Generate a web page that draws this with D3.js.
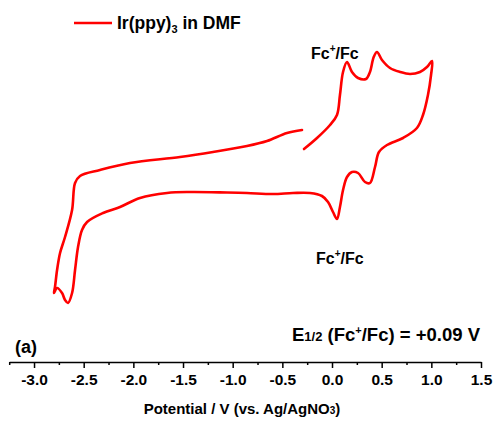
<!DOCTYPE html>
<html>
<head>
<meta charset="utf-8">
<script src="https://cdn.jsdelivr.net/npm/d3@7"></script>
<style>
  body { margin: 0; background: #fff; }
  text { font-family: Arial, "Liberation Sans", sans-serif; font-weight: bold; }
</style>
</head>
<body>
<div id="chart"></div>
<script>
// potential (V vs. Ag/AgNO3) in order
var potential = [
  -0.282, -0.151, -0.020, 0.050, 0.080, 0.111, 0.151, 0.201, 0.262, 0.342,
  0.382, 0.420, 0.453, 0.503, 0.584, 0.685, 0.785, 0.886, 0.956, 1.007,
  0.997, 0.966, 0.916, 0.855, 0.715, 0.554, 0.473, 0.433, 0.382, 0.332,
  0.262, 0.201, 0.151, 0.111, 0.080, 0.050, 0.010, -0.040, -0.101, -0.222,
  -0.393, -0.594, -0.856, -1.057, -1.430, -1.661, -1.933, -2.134, -2.305, -2.466,
  -2.517, -2.557, -2.587, -2.617, -2.658, -2.688, -2.718, -2.768, -2.799,
  -2.789, -2.768, -2.738, -2.688, -2.617, -2.587, -2.537, -2.336, -2.034, -1.530,
  -1.198, -0.856, -0.654, -0.453, -0.302
];
// current (arbitrary units, no axis in the original)
var current = [
  4.3, 5.4, 6.7, 7.7, 9.7, 12.0, 13.0, 12.0, 11.4, 11.3,
  12.0, 13.5, 14.0, 13.2, 12.4, 12.0, 11.8, 12.0, 12.5, 13.1,
  11.7, 9.7, 7.7, 6.4, 5.4, 4.7, 4.0, 2.5, 0.9, 1.0,
  1.9, 2.0, 1.5, 0.2, -1.5, -2.7, -2.0, -1.0, -0.4, -0.1,
  -0.1, -0.2, -0.1, -0.05, 0.0, -0.1, -0.6, -1.5, -2.1, -3.0,
  -3.8, -5.5, -7.8, -10.1, -11.1, -10.8, -10.1, -9.6, -10.1,
  -9.5, -7.8, -6.1, -4.5, -1.8, 0.9, 1.6, 2.2, 2.9, 3.5,
  4.0, 4.6, 5.1, 5.9, 6.2
];
var xTicks = [-3.0, -2.5, -2.0, -1.5, -1.0, -0.5, 0.0, 0.5, 1.0, 1.5];
var xMinorTicks = [-3.25, -2.75, -2.25, -1.75, -1.25, -0.75, -0.25, 0.25, 0.75, 1.25];

var width = 497, height = 421;
var red = "#ff0000";

var svg = d3.select("#chart")
  .append("svg")
    .attr("width", width)
    .attr("height", height);

// scales
var x = d3.scaleLinear()
  .domain([-3.25, 1.5])
  .range([9.2, 481]);

var y = d3.scaleLinear()
  .domain([-12, 14])
  .range([312, 52]);

var axisY = 362;

// X axis, minor ticks first then major ones
svg.append("g")
  .attr("transform", "translate(0," + axisY + ")")
  .call(d3.axisBottom(x).tickValues(xMinorTicks).tickSize(3).tickFormat(""))
  .call(g => g.select(".domain").remove())
  .selectAll("line").attr("stroke-width", 1.5);

var xAxis = svg.append("g")
  .attr("transform", "translate(0," + axisY + ")")
  .call(d3.axisBottom(x).tickValues(xTicks).tickSize(6).tickSizeOuter(0).tickPadding(6)
    .tickFormat(d3.format(".1f")));
xAxis.select(".domain").attr("stroke-width", 1.6);
xAxis.selectAll("line").attr("stroke-width", 1.5);
xAxis.selectAll("text")
  .attr("font-size", 15.5)
  .attr("fill", "#000")
  .text(d => d3.format(".1f")(d).replace("−", "-"));

// axis title
var title = svg.append("text")
  .attr("x", 242)
  .attr("y", 414)
  .attr("text-anchor", "middle")
  .attr("font-size", 15)
  .attr("fill", "#000");
title.append("tspan").text("Potential / V (vs. Ag/AgNO");
title.append("tspan").attr("font-size", 10).text("3");
title.append("tspan").text(")");

// the CV trace
var pts = potential.map((v, i) => [v, current[i]]);
var line = d3.line()
  .x(d => x(d[0]))
  .y(d => y(d[1]))
  .curve(d3.curveCatmullRom.alpha(0.5));

svg.append("path")
  .datum(pts)
  .attr("fill", "none")
  .attr("stroke", red)
  .attr("stroke-width", 2.6)
  .attr("stroke-linejoin", "round")
  .attr("stroke-linecap", "round")
  .attr("d", line);

// legend
svg.append("line")
  .attr("x1", 74).attr("x2", 112)
  .attr("y1", 23).attr("y2", 23)
  .attr("stroke", red)
  .attr("stroke-width", 2.6);
var leg = svg.append("text")
  .attr("x", 117)
  .attr("y", 29)
  .attr("font-size", 17.5)
  .attr("fill", "#000");
leg.append("tspan").text("Ir(ppy)");
leg.append("tspan").attr("font-size", 11).attr("dy", 4).text("3");
leg.append("tspan").attr("dy", -4).text(" in DMF");

// Fc+/Fc labels
function fcLabel(xp, yp) {
  var t = svg.append("text")
    .attr("x", xp)
    .attr("y", yp)
    .attr("font-size", 16)
    .attr("fill", "#000");
  t.append("tspan").text("Fc");
  t.append("tspan").attr("font-size", 10).attr("dy", -7).text("+");
  t.append("tspan").attr("dy", 7).text("/Fc");
  return t;
}
fcLabel(311, 59);
fcLabel(316, 264);

// panel letter
svg.append("text")
  .attr("x", 15)
  .attr("y", 353)
  .attr("font-size", 18)
  .attr("fill", "#000")
  .text("(a)");

// E1/2 note
var e12 = svg.append("text")
  .attr("x", 480)
  .attr("y", 341)
  .attr("text-anchor", "end")
  .attr("font-size", 18.5)
  .attr("fill", "#000");
e12.append("tspan").text("E");
e12.append("tspan").attr("font-size", 13).text("1/2");
e12.append("tspan").text(" (Fc");
e12.append("tspan").attr("font-size", 11).attr("dy", -7).text("+");
e12.append("tspan").attr("dy", 7).text("/Fc) = +0.09 V");
</script>
</body>
</html>
